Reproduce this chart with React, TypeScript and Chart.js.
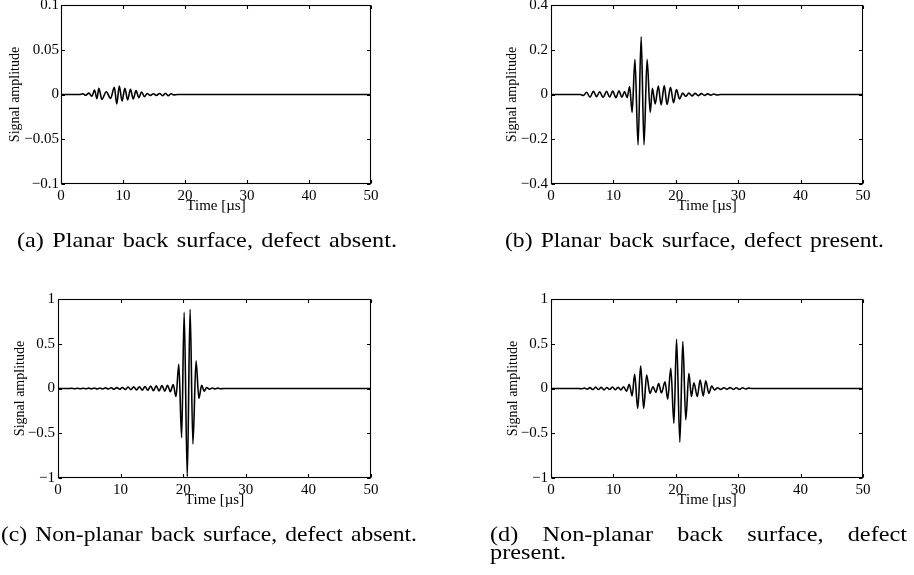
import React, { useEffect, useRef, useMemo } from 'react';
import { Chart, registerables } from 'chart.js';

Chart.register(...registerables);

// ---------- data ----------
const timeA = [0, 3.0, 3.5, 4.0, 4.5, 5.0, 5.4, 5.8, 6.1, 6.6, 7.3, 8.0, 8.6, 9.0, 9.4, 9.85, 10.3, 10.75, 11.2, 11.65, 12.1, 12.55, 13.0, 13.45, 13.9, 14.4, 14.9, 15.4, 15.9, 16.4, 16.85, 17.3, 17.75, 18.2, 18.8, 50];
const ampA = [0, 0, 0.0008, -0.0008, 0.0015, -0.002, 0.005, -0.0047, 0.007, -0.0054, 0.003, -0.0043, 0.008, -0.0106, 0.0095, -0.0073, 0.007, -0.006, 0.0058, -0.005, 0.0043, -0.0035, 0.0028, -0.0024, 0.0012, -0.0012, 0.0008, -0.001, 0.0012, -0.0014, 0.0014, -0.0013, 0.0008, -0.0004, 0, 0];

const timeB = [0, 4.7, 5.2, 5.7, 6.25, 6.8, 7.3, 7.8, 8.35, 8.9, 9.4, 9.9, 10.4, 10.9, 11.35, 11.8, 12.2, 12.6, 13.0, 13.45, 13.95, 14.45, 14.9, 15.4, 15.9, 16.25, 16.7, 17.2, 17.65, 18.15, 18.6, 19.15, 19.65, 20.1, 20.6, 21.1, 21.6, 22.1, 22.6, 23.1, 23.6, 24.1, 24.6, 25.1, 25.6, 26.1, 26.6, 27.2, 50];
const ampB = [0, 0, -0.004, 0.01, -0.012, 0.014, -0.01, 0.012, -0.013, 0.014, -0.011, 0.015, -0.014, 0.016, -0.012, 0.013, -0.014, 0.035, -0.08, 0.157, -0.225, 0.258, -0.225, 0.157, -0.08, 0.028, -0.042, 0.038, -0.047, 0.04, -0.045, 0.032, -0.037, 0.022, -0.02, 0.006, -0.008, 0.006, -0.006, 0.005, -0.005, 0.004, -0.004, 0.003, -0.003, 0.002, -0.002, 0, 0];

const timeC = [0, 1.8, 2.2, 2.65, 3.1, 3.55, 4.0, 4.45, 4.9, 5.35, 5.8, 6.25, 6.7, 7.15, 7.6, 8.05, 8.5, 8.95, 9.4, 9.85, 10.3, 10.75, 11.2, 11.65, 12.1, 12.55, 13.0, 13.45, 13.9, 14.35, 14.8, 15.25, 15.7, 16.15, 16.6, 17.05, 17.5, 17.95, 18.4, 18.85, 19.3, 19.75, 20.15, 20.65, 21.1, 21.55, 22.05, 22.5, 22.95, 23.35, 23.75, 24.2, 24.65, 25.1, 25.55, 26.0, 26.5, 50];
const ampC = [0, 0, 0.002, -0.002, 0.003, -0.002, 0.003, -0.003, 0.004, -0.004, 0.005, -0.005, 0.006, -0.005, 0.007, -0.006, 0.008, -0.008, 0.01, -0.009, 0.012, -0.011, 0.016, -0.013, 0.018, -0.015, 0.02, -0.018, 0.022, -0.02, 0.028, -0.025, 0.03, -0.028, 0.033, -0.03, 0.035, -0.035, 0.045, -0.09, 0.27, -0.55, 0.85, -0.985, 0.885, -0.62, 0.31, -0.11, 0.035, -0.03, 0.012, -0.008, 0.006, -0.005, 0.004, -0.003, 0, 0];

const timeD = [0, 4.4, 4.9, 5.35, 5.8, 6.25, 6.7, 7.15, 7.6, 8.05, 8.5, 8.95, 9.4, 9.85, 10.3, 10.75, 11.2, 11.65, 12.1, 12.55, 13.0, 13.4, 13.9, 14.37, 14.85, 15.33, 15.85, 16.35, 16.8, 17.25, 17.7, 18.27, 18.7, 19.2, 19.7, 20.12, 20.65, 21.12, 21.6, 22.1, 22.5, 22.9, 23.45, 23.9, 24.4, 24.8, 25.3, 25.75, 26.2, 26.7, 27.2, 27.7, 28.2, 28.7, 29.2, 29.7, 30.2, 30.7, 31.2, 31.7, 32.2, 50];
const ampD = [0, 0, -0.003, 0.005, -0.008, 0.01, -0.012, 0.015, -0.012, 0.013, -0.015, 0.012, -0.012, 0.016, -0.014, 0.013, -0.015, 0.02, -0.03, 0.047, -0.084, 0.158, -0.222, 0.251, -0.222, 0.15, -0.054, 0.02, -0.045, 0.055, -0.05, 0.075, -0.12, 0.225, -0.39, 0.55, -0.6, 0.525, -0.35, 0.17, -0.09, 0.065, -0.09, 0.095, -0.084, 0.087, -0.054, 0.028, -0.017, 0.008, -0.01, 0.009, -0.008, 0.01, -0.009, 0.008, -0.009, 0.008, -0.006, 0.004, 0, 0];

const xTicks = [0, 10, 20, 30, 40, 50];
const yTicksA = [-0.1, -0.05, 0, 0.05, 0.1];
const yTicksB = [-0.4, -0.2, 0, 0.2, 0.4];
const yTicksC = [-1, -0.5, 0, 0.5, 1];
const yTicksD = [-1, -0.5, 0, 0.5, 1];

const xTitle = 'Time [µs]';
const yTitle = 'Signal amplitude';

const captionA = '(a) Planar back surface, defect absent.';
const captionB = '(b) Planar back surface, defect present.';
const captionC = '(c) Non-planar back surface, defect absent.';
const captionD1 = '(d) Non-planar back surface, defect';
const captionD2 = 'present.';

// ---------- styling / layout ----------
const FAMILY = "'Liberation Serif', 'Times New Roman', serif";
const CAP_SIZE = 21;
const CAP_FONT = `${CAP_SIZE}px ${FAMILY}`;
const WORD_SP = 2;
const CW = 457;
const CH = 250;

const fmt = (v: number) => String(v).replace('-', '\u2212');

const framePlugin = {
  id: 'matlabFrame',
  afterDraw(chart: any) {
    const { ctx, chartArea } = chart;
    const xs = chart.scales.x;
    const ys = chart.scales.y;
    const l = Math.round(chartArea.left) + 0.5;
    const r = Math.round(chartArea.right) - 0.5;
    const t = Math.round(chartArea.top) + 0.5;
    const b = Math.round(chartArea.bottom) - 0.5;
    ctx.save();
    ctx.strokeStyle = '#000';
    ctx.lineWidth = 1.1;
    ctx.strokeRect(l, t, r - l, b - t);
    const tk = 3.5;
    ctx.beginPath();
    xs.ticks.forEach((tick: any) => {
      const px = Math.round(xs.getPixelForValue(tick.value)) + 0.5;
      ctx.moveTo(px, b); ctx.lineTo(px, b - tk);
      ctx.moveTo(px, t); ctx.lineTo(px, t + tk);
    });
    ys.ticks.forEach((tick: any) => {
      const py = Math.round(ys.getPixelForValue(tick.value)) + 0.5;
      ctx.moveTo(l, py); ctx.lineTo(l + tk, py);
      ctx.moveTo(r, py); ctx.lineTo(r - tk, py);
    });
    ctx.stroke();
    ctx.restore();
  },
};

type PanelCfg = {
  time: number[]; amp: number[]; yTicks: number[];
  ox: number; oy: number; L: number; T: number; R: number; B: number;
  yTitleX: number; xTitleY: number; yPad: number;
};

const panels: PanelCfg[] = [
  { time: timeA, amp: ampA, yTicks: yTicksA, ox: 0, oy: -12, L: 61, T: 5, R: 371, B: 184, yTitleX: 15, xTitleY: 206.5, yPad: 2 },
  { time: timeB, amp: ampB, yTicks: yTicksB, ox: 457, oy: -12, L: 551, T: 5, R: 863, B: 184, yTitleX: 512.5, xTitleY: 206.5, yPad: 3 },
  { time: timeC, amp: ampC, yTicks: yTicksC, ox: 0, oy: 282, L: 58, T: 299, R: 371, B: 478, yTitleX: 20.5, xTitleY: 500, yPad: 3 },
  { time: timeD, amp: ampD, yTicks: yTicksD, ox: 457, oy: 282, L: 551, T: 299, R: 863, B: 478, yTitleX: 513, xTitleY: 500, yPad: 3 },
];

function Panel({ p }: { p: PanelCfg }) {
  const ref = useRef<HTMLCanvasElement>(null);
  useEffect(() => {
    const xTitleSize = 15;
    const yTitleSize = 14;
    const xLh = xTitleSize * 1.2;
    const yLh = yTitleSize * 1.2;
    const chart = new Chart(ref.current as HTMLCanvasElement, {
      type: 'line',
      data: {
        datasets: [{
          data: p.time.map((t, i) => ({ x: t, y: p.amp[i] })),
          borderColor: '#000',
          borderWidth: 1.6,
          pointRadius: 0,
          fill: false,
          cubicInterpolationMode: 'monotone',
        }],
      },
      options: {
        animation: false,
        responsive: false,
        maintainAspectRatio: false,
        events: [],
        layout: {
          autoPadding: false,
          padding: { left: 0, top: p.T - p.oy, right: p.ox + CW - p.R, bottom: 0 },
        },
        plugins: { legend: { display: false }, tooltip: { enabled: false } },
        scales: {
          x: {
            type: 'linear', min: 0, max: 50,
            afterBuildTicks: (s: any) => { s.ticks = xTicks.map((v) => ({ value: v })); },
            afterFit: (s: any) => { s.height = p.oy + CH - p.B; },
            grid: { display: false, drawTicks: false },
            border: { display: false },
            ticks: {
              padding: 3, autoSkip: false, maxRotation: 0, color: '#000',
              font: { family: FAMILY, size: 15 },
              callback: (v: any) => fmt(Number(v)),
            },
            title: {
              display: true, text: xTitle, color: '#000',
              font: { family: FAMILY, size: xTitleSize },
              padding: { top: 0, bottom: (p.oy + CH) - p.xTitleY - xLh / 2 },
            },
          },
          y: {
            type: 'linear', min: p.yTicks[0], max: p.yTicks[p.yTicks.length - 1],
            afterBuildTicks: (s: any) => { s.ticks = p.yTicks.map((v) => ({ value: v })); },
            afterFit: (s: any) => { s.width = p.L - p.ox; },
            grid: { display: false, drawTicks: false },
            border: { display: false },
            ticks: {
              padding: p.yPad, autoSkip: false, color: '#000',
              font: { family: FAMILY, size: 15 },
              callback: (v: any) => fmt(Number(v)),
            },
            title: {
              display: true, text: yTitle, color: '#000',
              font: { family: FAMILY, size: yTitleSize },
              padding: { top: (p.yTitleX - p.ox) - yLh / 2, bottom: 0 },
            },
          },
        },
      } as any,
      plugins: [framePlugin],
    });
    return () => chart.destroy();
  }, [p]);
  return (
    <canvas
      ref={ref}
      width={CW}
      height={CH}
      style={{ position: 'absolute', left: p.ox, top: p.oy, width: CW, height: CH }}
    />
  );
}

function textWidth(text: string) {
  const c = document.createElement('canvas').getContext('2d') as CanvasRenderingContext2D;
  c.font = CAP_FONT;
  return c.measureText(text).width;
}

// horizontal stretch so the caption fills the same width as in the reference
function stretchFor(text: string, width: number) {
  const spaces = text.split(' ').length - 1;
  return width / (textWidth(text) + spaces * WORD_SP);
}

function Caption({ text, x, baseline, width, sx, justify }: { text: string; x: number; baseline: number; width?: number; sx: number; justify?: boolean }) {
  const style: any = {
    position: 'absolute',
    left: x,
    top: baseline - CAP_SIZE * 0.8375,
    font: CAP_FONT,
    lineHeight: `${CAP_SIZE}px`,
    wordSpacing: `${WORD_SP}px`,
    color: '#000',
    whiteSpace: justify ? 'normal' : 'nowrap',
    transform: `scaleX(${sx})`,
    transformOrigin: '0 0',
  };
  if (justify && width) {
    style.width = width / sx;
    style.textAlign = 'justify';
    style.textAlignLast = 'justify';
  }
  return <div style={style}>{text}</div>;
}

export default function App() {
  const sx = useMemo(() => ({
    a: stretchFor(captionA, 380),
    b: stretchFor(captionB, 379),
    c: stretchFor(captionC, 416),
  }), []);
  return (
    <div style={{ position: 'absolute', left: 0, top: 0, width: 914, height: 575, background: '#fff', overflow: 'hidden' }}>
      {panels.map((p, i) => <Panel key={i} p={p} />)}
      <Caption text={captionA} x={17} baseline={247.3} sx={sx.a} />
      <Caption text={captionB} x={505} baseline={247.3} sx={sx.b} />
      <Caption text={captionC} x={0.5} baseline={541.7} sx={sx.c} />
      <Caption text={captionD1} x={490} baseline={541.7} width={417} sx={sx.a} justify />
      <Caption text={captionD2} x={490} baseline={560} sx={sx.a} />
    </div>
  );
}
